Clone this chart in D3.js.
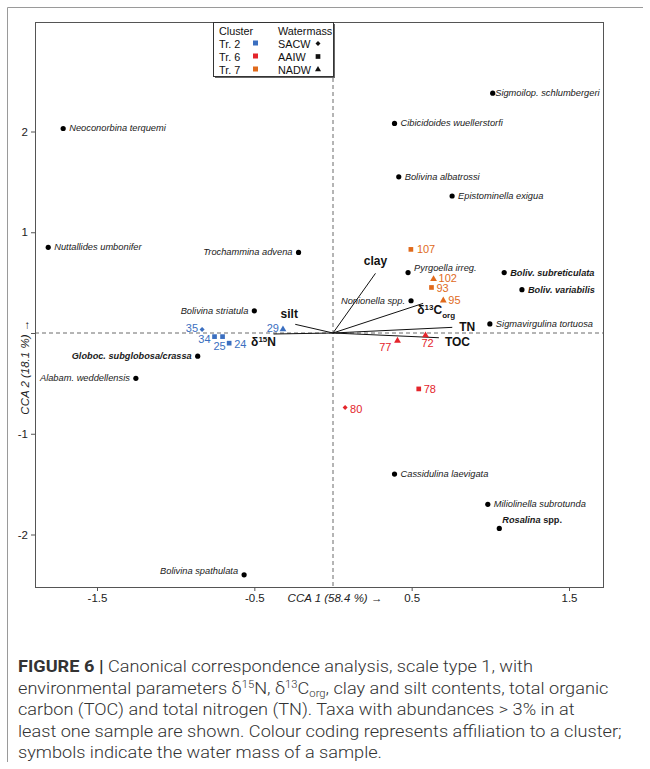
<!DOCTYPE html>
<html>
<head>
<meta charset="utf-8">
<script src="https://cdn.jsdelivr.net/npm/d3@7"></script>
<style>
  body { margin: 0; background: #fff; }
  svg { display: block; }
</style>
</head>
<body>
<svg id="chart" width="650" height="769"></svg>
<script>
// ---- Species scores (CCA axis 1, axis 2) ----
const taxaNames = [
  "Sigmoilop. schlumbergeri", "Neoconorbina terquemi", "Cibicidoides wuellerstorfi",
  "Bolivina albatrossi", "Epistominella exigua", "Nuttallides umbonifer",
  "Trochammina advena", "Pyrgoella irreg.", "Boliv. subreticulata",
  "Boliv. variabilis", "Nonionella spp.", "Sigmavirgulina tortuosa",
  "Bolivina striatula", "Globoc. subglobosa/crassa", "Alabam. weddellensis",
  "Cassidulina laevigata", "Miliolinella subrotunda", "Rosalina spp.",
  "Bolivina spathulata"
];
const taxaX = [1.015, -1.715, 0.391, 0.418, 0.757, -1.810, -0.219, 0.477, 1.088,
               1.201, 0.496, 0.997, -0.500, -0.860, -1.253, 0.391, 0.984, 1.057, -0.565];
const taxaY = [2.38, 2.03, 2.08, 1.55, 1.36, 0.85, 0.80, 0.60, 0.60,
               0.43, 0.32, 0.09, 0.22, -0.23, -0.45, -1.40, -1.70, -1.94, -2.40];
// taxa printed in bold
const taxaBold = ["Boliv. subreticulata", "Boliv. variabilis", "Globoc. subglobosa/crassa", "Rosalina spp."];

// ---- Sample scores ----
const sampleIds = ["35", "34", "25", "24", "29", "107", "102", "93", "95", "77", "72", "78", "80"];
const sampleX = [-0.832, -0.753, -0.702, -0.660, -0.318, 0.495, 0.639, 0.626, 0.701, 0.410, 0.588, 0.545, 0.077];
const sampleY = [0.035, -0.036, -0.036, -0.101, 0.036, 0.83, 0.535, 0.452, 0.323, -0.077, -0.023, -0.555, -0.740];
const sampleCluster = ["Tr. 2", "Tr. 2", "Tr. 2", "Tr. 2", "Tr. 2", "Tr. 7", "Tr. 7", "Tr. 7", "Tr. 7",
                       "Tr. 6", "Tr. 6", "Tr. 6", "Tr. 6"];
const sampleWater = ["SACW", "AAIW", "AAIW", "AAIW", "NADW", "AAIW", "NADW", "AAIW", "NADW",
                     "NADW", "NADW", "AAIW", "SACW"];

// ---- Environmental vectors ----
const envNames = ["clay", "d13C", "TN", "TOC", "silt", "d15N"];
const envX = [0.270, 0.573, 0.758, 0.673, -0.240, -0.378];
const envY = [0.592, 0.294, 0.056, -0.047, 0.086, -0.010];

// ---- Legend / axis definitions ----
const clusters = ["Tr. 2", "Tr. 6", "Tr. 7"];
const clusterColors = ["#3b6fc0", "#e4252b", "#e06a1c"];
const watermasses = ["SACW", "AAIW", "NADW"];
const xTicks = [-1.5, -0.5, 0.5, 1.5];
const yTicks = [2, 1, -1, -2];
const xTitle = "CCA 1 (58.4 %) \u2192";
const yTitle = "CCA 2 (18.1 %) \u2192";

const svg = d3.select("#chart");

// figure frame (top and left rules)
svg.append("path").attr("d", "M7.5,762 V7.5 H643")
  .attr("fill", "none").attr("stroke", "#9a9a9a").attr("stroke-width", 1);

// plot panel
const P = { left: 35, right: 603, top: 22, bottom: 587 };
const x = d3.scaleLinear().domain([-1.5, 1.5]).range([97, 569]);
const y = d3.scaleLinear().domain([-2, 2]).range([534.5, 131.5]);

const plot = svg.append("g");
const font = "'Liberation Sans', Arial, Helvetica, sans-serif";
const fmtTick = d => String(d);   // plain hyphen-minus for negatives

// dashed reference lines through the origin
plot.append("line").attr("x1", x(0)).attr("x2", x(0)).attr("y1", P.top).attr("y2", P.bottom)
  .attr("stroke", "#444").attr("stroke-width", 0.8).attr("stroke-dasharray", "4,3");
plot.append("line").attr("x1", P.left).attr("x2", P.right).attr("y1", y(0)).attr("y2", y(0))
  .attr("stroke", "#444").attr("stroke-width", 0.8).attr("stroke-dasharray", "4,3");

// axes
const xAxis = d3.axisBottom(x).tickValues(xTicks).tickSize(4).tickPadding(3).tickFormat(fmtTick);
const yAxis = d3.axisLeft(y).tickValues(yTicks).tickSize(4).tickPadding(3).tickFormat(fmtTick);
const gx = svg.append("g").attr("transform", `translate(0,${P.bottom})`).call(xAxis);
const gy = svg.append("g").attr("transform", `translate(${P.left},0)`).call(yAxis);
[gx, gy].forEach(g => {
  g.select(".domain").remove();
  g.selectAll("line").attr("stroke", "#555");
  g.selectAll("text").attr("font-family", font).attr("font-size", 11.5).attr("fill", "#222");
});
// unlabeled tick at the origin of axis 2
svg.append("line").attr("x1", P.left - 4).attr("x2", P.left).attr("y1", y(0) + 0.5).attr("y2", y(0) + 0.5)
  .attr("stroke", "#555");

// panel border
svg.append("rect").attr("x", P.left + 0.5).attr("y", P.top + 0.5)
  .attr("width", P.right - P.left).attr("height", P.bottom - P.top)
  .attr("fill", "none").attr("stroke", "#555").attr("stroke-width", 1);

// axis titles
svg.append("text").attr("x", x(0) + 2).attr("y", 602).attr("text-anchor", "middle")
  .attr("font-family", font).attr("font-size", 11.5).attr("font-style", "italic").attr("fill", "#222")
  .text(xTitle);
svg.append("text").attr("transform", `translate(29,${y(-0.34)}) rotate(-90)`).attr("text-anchor", "middle")
  .attr("font-family", font).attr("font-size", 11.5).attr("font-style", "italic").attr("fill", "#222")
  .text(yTitle);

// environmental vectors
const envLabelPos = {
  clay: [0, -8, "middle"], d13C: [13, 11, "middle"], TN: [7, 4, "start"],
  TOC: [6, 8, "start"], silt: [-6, -6, "middle"], d15N: [-10, 12, "middle"]
};
const envG = plot.append("g");
envNames.forEach((n, i) => {
  envG.append("line").attr("x1", x(0)).attr("y1", y(0)).attr("x2", x(envX[i])).attr("y2", y(envY[i]))
    .attr("stroke", "#111").attr("stroke-width", 1);
  const [dx, dy, anchor] = envLabelPos[n];
  const t = envG.append("text").attr("x", x(envX[i]) + dx).attr("y", y(envY[i]) + dy)
    .attr("text-anchor", anchor).attr("font-family", font).attr("font-size", 12)
    .attr("font-weight", "bold").attr("fill", "#111");
  if (n === "d13C") {
    t.append("tspan").text("\u03b4");
    t.append("tspan").attr("font-size", 8).attr("dy", -4).text("13");
    t.append("tspan").attr("dy", 4).text("C");
    t.append("tspan").attr("font-size", 8).attr("dy", 4).text("org");
  } else if (n === "d15N") {
    t.append("tspan").text("\u03b4");
    t.append("tspan").attr("font-size", 8).attr("dy", -4).text("15");
    t.append("tspan").attr("dy", 4).text("N");
  } else {
    t.text(n);
  }
});

// species
const taxaLeft = ["Trochammina advena", "Nonionella spp.", "Bolivina striatula",
  "Globoc. subglobosa/crassa", "Alabam. weddellensis", "Bolivina spathulata"];
const taxaG = plot.append("g");
taxaNames.forEach((n, i) => {
  const cx = x(taxaX[i]), cy = y(taxaY[i]);
  taxaG.append("circle").attr("cx", cx).attr("cy", cy).attr("r", 2.6).attr("fill", "#000");
  const left = taxaLeft.includes(n);
  const bold = taxaBold.includes(n);
  let dx = left ? -6 : 6, dy = 3;
  if (n === "Sigmoilop. schlumbergeri") dx = 2.5;
  if (n === "Pyrgoella irreg.") dy = -2;
  if (n === "Rosalina spp.") { dx = 3; dy = -5; }
  if (n === "Bolivina spathulata") { dy = -1; }
  const t = taxaG.append("text").attr("x", cx + dx).attr("y", cy + dy)
    .attr("text-anchor", left ? "end" : "start").attr("font-family", font)
    .attr("font-size", bold ? 9.2 : 9.3).attr("fill", "#1a1a1a");
  if (n === "Rosalina spp.") {
    t.attr("font-weight", "bold");
    t.append("tspan").attr("font-style", "italic").text("Rosalina");
    t.append("tspan").text(" spp.");
  } else {
    t.attr("font-style", "italic").attr("font-weight", bold ? "bold" : "normal").text(n);
  }
});

// samples
const colorOf = d3.scaleOrdinal().domain(clusters).range(clusterColors);
const symbolOf = d3.scaleOrdinal().domain(watermasses).range([d3.symbolDiamond2, d3.symbolSquare, d3.symbolTriangle]);
const sizeOf = d3.scaleOrdinal().domain(watermasses).range([16, 22, 20]);
const sampleLabelPos = {
  "35": [-4, 3, "end"], "34": [-4, 6, "end"], "25": [-3, 13, "middle"], "24": [5, 5, "start"],
  "29": [-4, 3, "end"], "107": [6, 4, "start"], "102": [5, 3, "start"], "93": [5, 5, "start"],
  "95": [5, 4, "start"], "77": [-6, 10, "end"], "72": [2, 12, "middle"], "78": [5, 4, "start"],
  "80": [5, 5, "start"]
};
const sampG = plot.append("g");
sampleIds.forEach((id, i) => {
  const cx = x(sampleX[i]), cy = y(sampleY[i]);
  const c = colorOf(sampleCluster[i]);
  sampG.append("path").attr("transform", `translate(${cx},${cy})`)
    .attr("d", d3.symbol().type(symbolOf(sampleWater[i])).size(sizeOf(sampleWater[i]))())
    .attr("fill", c);
  const [dx, dy, anchor] = sampleLabelPos[id];
  sampG.append("text").attr("x", cx + dx).attr("y", cy + dy).attr("text-anchor", anchor)
    .attr("font-family", font).attr("font-size", 11).attr("fill", c).text(id);
});

// legend
const L = { x: 213, y: 22, w: 120, h: 54 };
const lg = svg.append("g");
lg.append("rect").attr("x", L.x + 2).attr("y", L.y + 2).attr("width", L.w).attr("height", L.h).attr("fill", "#666");
lg.append("rect").attr("x", L.x + 0.5).attr("y", L.y + 0.5).attr("width", L.w).attr("height", L.h)
  .attr("fill", "#fff").attr("stroke", "#333").attr("stroke-width", 1);
const lt = (tx, ty, s) => lg.append("text").attr("x", tx).attr("y", ty)
  .attr("font-family", font).attr("font-size", 10.8).attr("fill", "#111").text(s);
lt(L.x + 6, L.y + 12.5, "Cluster");
lt(L.x + 65, L.y + 12.5, "Watermass");
clusters.forEach((c, i) => {
  const ry = L.y + 26 + i * 13;
  lt(L.x + 6, ry, c);
  lg.append("rect").attr("x", L.x + 40).attr("y", ry - 7.5).attr("width", 5).attr("height", 5).attr("fill", clusterColors[i]);
});
watermasses.forEach((w, i) => {
  const ry = L.y + 26 + i * 13;
  lt(L.x + 65, ry, w);
  lg.append("path").attr("transform", `translate(${L.x + 105},${ry - 4.5})`)
    .attr("d", d3.symbol().type(symbolOf(w)).size(i === 1 ? 22 : 16)())
    .attr("fill", "#111");
});

// caption (light face, set slightly condensed to fit the text block)
const capFont = "Roboto, 'Liberation Sans', Arial, sans-serif";
const capSize = 17;
const capLines = [
  [["b", "FIGURE 6 | "], ["n", "Canonical correspondence analysis, scale type 1, with"]],
  [["n", "environmental parameters \u03b4"], ["sup", "15"], ["n", "N, \u03b4"], ["sup", "13"], ["n", "C"], ["sub", "org"],
   ["n", ", clay and silt contents, total organic"]],
  [["n", "carbon (TOC) and total nitrogen (TN). Taxa with abundances > 3% in at"]],
  [["n", "least one sample are shown. Colour coding represents affiliation to a cluster;"]],
  [["n", "symbols indicate the water mass of a sample."]]
];
const cap = svg.append("g").attr("font-family", capFont).attr("fill", "#333");
const probe = cap.append("text").attr("font-size", capSize).attr("font-weight", 300).text(capLines[3][0][1]);
const sx = 604 / probe.node().getComputedTextLength();
probe.remove();
cap.attr("transform", `translate(18,0) scale(${sx},1)`);
capLines.forEach((parts, i) => {
  const t = cap.append("text").attr("x", 0).attr("y", 672 + i * 21.6)
    .attr("font-size", capSize).attr("font-weight", 300);
  let shift = 0;
  parts.forEach(([k, s]) => {
    const sp = t.append("tspan").text(s);
    let want = 0;
    if (k === "b") sp.attr("font-weight", 700);
    if (k === "sup") { sp.attr("font-size", capSize * 0.62); want = -6; }
    if (k === "sub") { sp.attr("font-size", capSize * 0.62); want = 3; }
    sp.attr("dy", want - shift);
    shift = want;
  });
});
</script>
</body>
</html>
